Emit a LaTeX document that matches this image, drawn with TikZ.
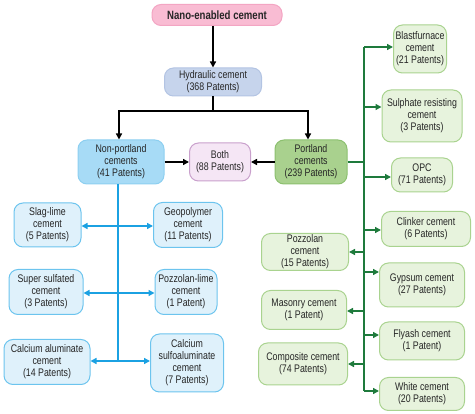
\documentclass[tikz,border=0pt]{standalone}
\usepackage{fontspec}
\setmainfont[FakeStretch=0.8]{Liberation Sans}
\usetikzlibrary{arrows.meta,calc}
\definecolor{nanofill}{HTML}{F9BCD3}
\definecolor{nanodraw}{HTML}{F3A5C3}
\definecolor{hydfill}{HTML}{C6D4EC}
\definecolor{hyddraw}{HTML}{B3C4E3}
\definecolor{npfill}{HTML}{A7DBF6}
\definecolor{npdraw}{HTML}{8DCFF0}
\definecolor{bothfill}{HTML}{F5E6F5}
\definecolor{bothdraw}{HTML}{C9A0CC}
\definecolor{portfill}{HTML}{A9D18E}
\definecolor{portdraw}{HTML}{8CC06F}
\definecolor{bfill}{HTML}{DFF1FB}
\definecolor{bdraw}{HTML}{6CC4EE}
\definecolor{bline}{HTML}{1BA1E2}
\definecolor{gfill}{HTML}{E7F3DD}
\definecolor{gdraw}{HTML}{A9D38F}
\definecolor{gline}{HTML}{1E7A3C}
\begin{document}
\begin{tikzpicture}[x=1pt,y=-1pt,
  box/.style={rounded corners=9pt, align=center, inner sep=1pt, line width=1pt,
    text=black!85, font=\fontsize{11}{12}\selectfont},
  bluebox/.style={box, fill=bfill, draw=bdraw},
  greenbox/.style={box, fill=gfill, draw=gdraw},
  blk/.style={line width=1.4pt, -{Triangle[length=6pt,width=6pt]}},
  blkline/.style={line width=1.4pt},
  bl/.style={line width=1.4pt, draw=bline, -{Triangle[length=6pt,width=6pt]}, bline},
  gl/.style={line width=1.4pt, draw=gline, -{Triangle[length=6pt,width=6pt]}, gline}]
\useasboundingbox (0,0) rectangle (475,414);
% top
\node[box, fill=nanofill, draw=nanodraw, minimum width=130pt, minimum height=21pt,
  font=\fontsize{12}{13}\selectfont\bfseries] (nano) at (217,15) {Nano-enabled cement};
\node[box, fill=hydfill, draw=hyddraw, minimum width=97pt, minimum height=28pt] (hyd) at (213,82) {Hydraulic cement\\(368 Patents)};
\node[box, fill=npfill, draw=npdraw, minimum width=86pt, minimum height=44pt] (np) at (121,162) {Non-portland\\cements\\(41 Patents)};
\node[box, fill=bothfill, draw=bothdraw, minimum width=61pt, minimum height=38pt] (both) at (220,162) {Both\\(88 Patents)};
\node[box, fill=portfill, draw=portdraw, minimum width=72pt, minimum height=44pt] (port) at (311,162) {Portland\\cements\\(239 Patents)};
% blue nodes
\node[bluebox, minimum width=67pt, minimum height=44pt] (slag) at (47.5,225) {Slag-lime\\cement\\(5 Patents)};
\node[bluebox, minimum width=69pt, minimum height=45pt] (geo) at (188,225) {Geopolymer\\cement\\(11 Patents)};
\node[bluebox, minimum width=74pt, minimum height=45pt] (super) at (46,292) {Super sulfated\\cement\\(3 Patents)};
\node[bluebox, minimum width=62pt, minimum height=45pt] (pozl) at (186,292) {Pozzolan-lime\\cement\\(1 Patent)};
\node[bluebox, minimum width=86pt, minimum height=45pt] (calal) at (47,362) {Calcium aluminate\\cement\\(14 Patents)};
\node[bluebox, minimum width=73pt, minimum height=58pt] (calsul) at (187,363) {Calcium\\sulfoaluminate\\cement\\(7 Patents)};
% green nodes
\node[greenbox, minimum width=53pt, minimum height=48pt] (blast) at (420,49) {Blastfurnace\\cement\\(21 Patents)};
\node[greenbox, minimum width=80pt, minimum height=52pt] (sulph) at (422,116) {Sulphate resisting\\cement\\(3 Patents)};
\node[greenbox, minimum width=61pt, minimum height=34pt] (opc) at (422,175) {OPC\\(71 Patents)};
\node[greenbox, minimum width=89pt, minimum height=35pt] (clink) at (426,229) {Clinker cement\\(6 Patents)};
\node[greenbox, minimum width=87pt, minimum height=37pt] (pozz) at (305,252) {Pozzolan\\cement\\(15 Patents)};
\node[greenbox, minimum width=85pt, minimum height=44pt] (gyp) at (422,285) {Gypsum cement\\(27 Patents)};
\node[greenbox, minimum width=85pt, minimum height=39pt] (mas) at (304,310) {Masonry cement\\(1 Patent)};
\node[greenbox, minimum width=85pt, minimum height=38pt] (fly) at (422,341) {Flyash cement\\(1 Patent)};
\node[greenbox, minimum width=89pt, minimum height=42pt] (comp) at (303,364) {Composite cement\\(74 Patents)};
\node[greenbox, minimum width=85pt, minimum height=33pt] (white) at (422,394) {White cement\\(20 Patents)};
% black connectors
\draw[blk] (hyd.north |- nano.south) -- (hyd.north);
\coordinate (split) at (213,111);
\draw[blkline] (hyd.south) -- (split);
\draw[blk] (split) -| ($(np.north)+(-2,0)$);
\draw[blk] (split) -| ($(port.north)+(-3,0)$);
\draw[blk] (np.east) -- (both.west);
\draw[blk] (port.west) -- (both.east);
% blue tree
\coordinate (b1) at (118,226);
\coordinate (b2) at (118,293);
\coordinate (b3) at (118,361);
\draw[line width=1.4pt, bline] ($(np.south)+(-3,0)$) -- (b3);
\draw[bl] (b1) -- (b1 -| slag.east);
\draw[bl] (b1) -- (b1 -| geo.west);
\draw[bl] (b2) -- (b2 -| super.east);
\draw[bl] (b2) -- (b2 -| pozl.west);
\draw[bl] (b3) -- (b3 -| calal.east);
\draw[bl] (b3) -- (b3 -| calsul.west);
% green tree
\coordinate (gtop) at (364,47);
\coordinate (gbot) at (364,391);
\draw[line width=1.4pt, gline] (port.east) -- (port.east -| gtop);
\draw[line width=1.4pt, gline] (gtop) -- (gbot);
\draw[gl] (gtop) -- (gtop -| blast.west);
\coordinate (g2) at (364,107);
\draw[gl] (g2) -- (g2 -| sulph.west);
\coordinate (g3) at (364,177);
\draw[gl] (g3) -- (g3 -| opc.west);
\coordinate (g4) at (364,230);
\draw[gl] (g4) -- (g4 -| clink.west);
\coordinate (g5) at (364,272);
\draw[gl] (g5) -- (g5 -| gyp.west);
\coordinate (g6) at (364,335);
\draw[gl] (g6) -- (g6 -| fly.west);
\draw[gl] (gbot) -- (gbot -| white.west);
\coordinate (h1) at (364,252);
\draw[gl] (h1) -- (h1 -| pozz.east);
\coordinate (h2) at (364,311);
\draw[gl] (h2) -- (h2 -| mas.east);
\coordinate (h3) at (364,364);
\draw[gl] (h3) -- (h3 -| comp.east);
\end{tikzpicture}
\end{document}
